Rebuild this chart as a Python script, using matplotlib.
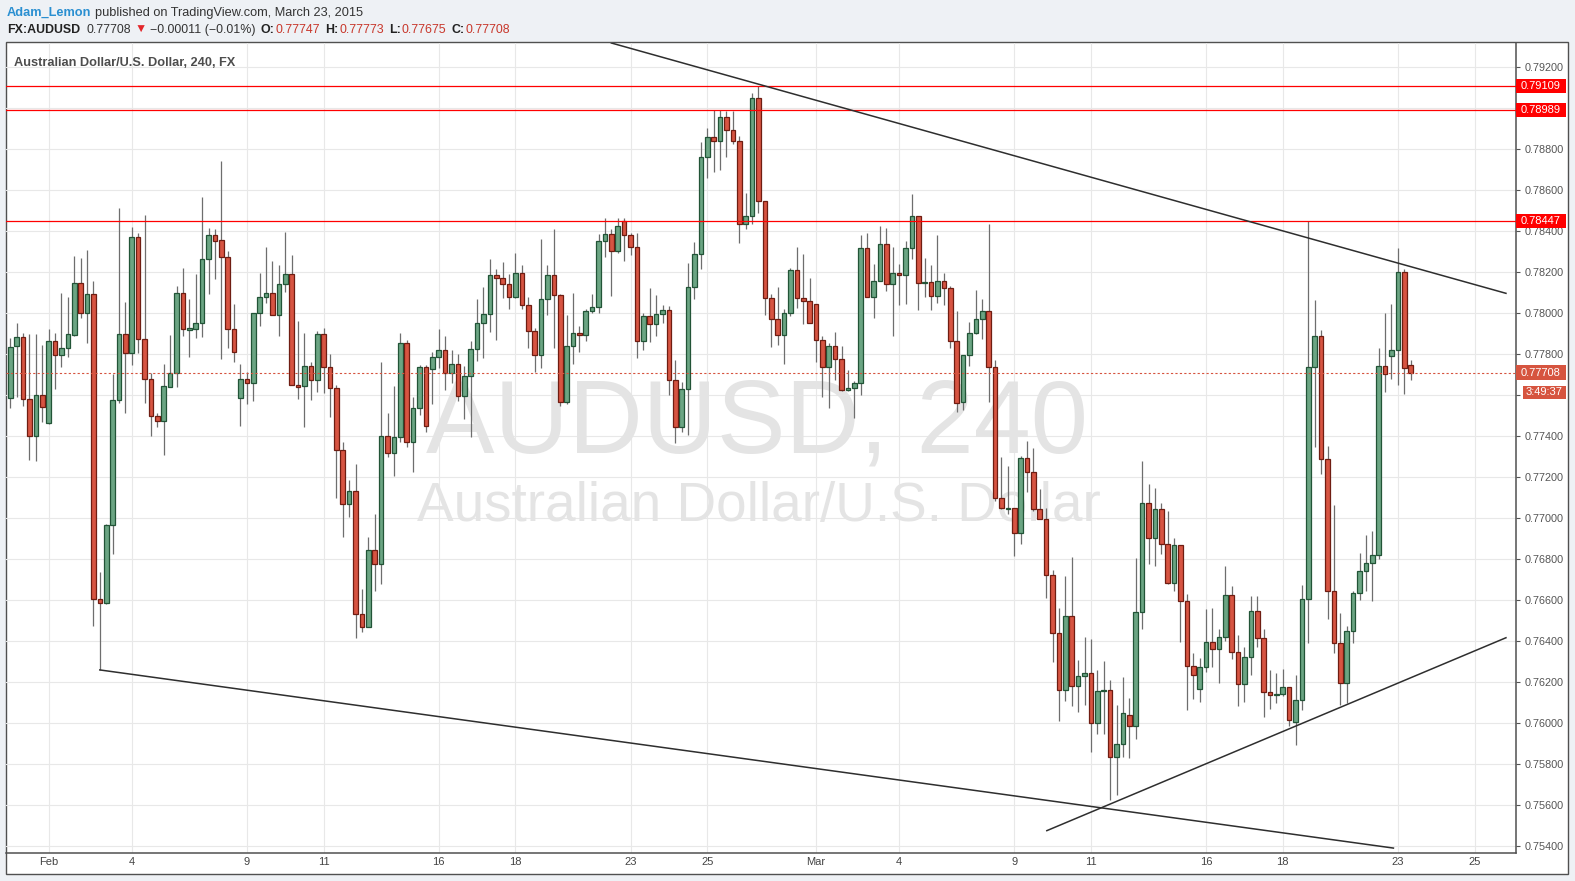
import matplotlib
matplotlib.use("Agg")
import numpy as np
import matplotlib.pyplot as plt
import matplotlib.transforms as mtransforms
from matplotlib.patches import Rectangle

# 4h candles, Jan 30 -> Mar 23 2015 (index = candle slot, weekends skipped)
opens = [
    .77584, .77837, .77881, .77579, .77398, .77598, .77462, .77862, .77794, .77828,
    .77894, .78145, .78001, .78091, .76603, .76584, .76964, .77574, .77896, .77803,
    .78371, .77872, .77677, .77496, .77472, .77641, .77706, .78096, .77919, .77922,
    .77950, .78262, .78379, .78356, .78272, .77920, .77584, .77677, .77657, .78000,
    .78077, .78096, .77989, .78140, .78189, .77647, .77642, .77740, .77672, .77896,
    .77735, .77633, .77332, .77067, .77130, .76530, .76470, .76842, .76774, .77398,
    .77316, .77394, .77852, .77369, .77535, .77735, .77725, .77784, .77818, .77706,
    .77750, .77597, .77693, .77823, .77950, .77994, .78184, .78169, .78140, .78077,
    .78194, .78037, .77911, .77794, .78067, .78184, .78086, .77564, .77839, .77901,
    .77891, .78008, .78028, .78350, .78385, .78301, .78447, .78379, .78320, .77862,
    .77984, .77948, .77994, .78013, .77672, .77445, .77628, .78125, .78286, .78760,
    .78857, .78838, .78955, .78891, .78838, .78433, .78472, .79047, .78545, .78072,
    .77969, .77891, .78000, .78208, .78075, .78057, .78042, .77867, .77735, .77837,
    .77774, .77623, .77633, .77657, .78316, .78077, .78155, .78335, .78140, .78194,
    .78184, .78316, .78472, .78145, .78150, .78081, .78155, .78120, .77862, .77564,
    .77796, .77904, .77971, .78010, .77739, .77096, .77045, .77049, .76928, .77291,
    .77224, .77044, .76995, .76724, .76441, .76160, .76520, .76180, .76230, .76243,
    .75999, .76157, .76160, .75832, .75897, .76037, .75984, .76541, .77072, .76901,
    .77042, .76872, .76681, .76867, .76594, .76277, .76164, .76272, .76394, .76360,
    .76418, .76623, .76345, .76189, .76320, .76545, .76413, .76150, .76135, .76140,
    .76177, .76005, .76112, .76605, .77735, .77886, .77288, .76642, .76392, .76194,
    .76447, .76633, .76740, .76779, .76818, .77741, .77789, .77818, .78200, .77747,
]
highs = [
    .77877, .77950, .77901, .77896, .77896, .77842, .77920, .77901, .78096, .78077,
    .78278, .78267, .78307, .78155, .76737, .76971, .77701, .78510, .78052, .78420,
    .78390, .78480, .77706, .77511, .77751, .77893, .78132, .78221, .78068, .78190,
    .78566, .78413, .78410, .78741, .78302, .78044, .77751, .77712, .78000, .78195,
    .78322, .78254, .78234, .78395, .78283, .77961, .77902, .77761, .77911, .77926,
    .77799, .77649, .77371, .77185, .77263, .76654, .76907, .77020, .77761, .77514,
    .77644, .77902, .77868, .77590, .77746, .77746, .77811, .77922, .77888, .77820,
    .77799, .77741, .77863, .78067, .78125, .78262, .78213, .78249, .78190, .78293,
    .78233, .78077, .77927, .78360, .78234, .78410, .78091, .77990, .78098, .77935,
    .78018, .78091, .78387, .78463, .78410, .78463, .78463, .78390, .78390, .78000,
    .78120, .78088, .78039, .78034, .77769, .77662, .78245, .78345, .78834, .78902,
    .78989, .78989, .78984, .78984, .78862, .78584, .79073, .79109, .78545, .78093,
    .78127, .78018, .78218, .78320, .78288, .78169, .78042, .77886, .77852, .77906,
    .77837, .77720, .77667, .78379, .78389, .78238, .78423, .78413, .78320, .78238,
    .78350, .78580, .78472, .78267, .78233, .78379, .78194, .78130, .78008, .77796,
    .77954, .78112, .78069, .78434, .77772, .77298, .77254, .77049, .77304, .77376,
    .77341, .77142, .77051, .76746, .76560, .76715, .76808, .76308, .76420, .76412,
    .76258, .76302, .76211, .76090, .76223, .76123, .76807, .77278, .77166, .77146,
    .77073, .77034, .76901, .76867, .76628, .76340, .76316, .76556, .76561, .76459,
    .76766, .76668, .76429, .76369, .76620, .76620, .76457, .76257, .76242, .76262,
    .76177, .76234, .76673, .78449, .78063, .77917, .77351, .77065, .76535, .76473,
    .76645, .76831, .76917, .76937, .77829, .78001, .78044, .78317, .78215, .77773,
]
lows = [
    .77535, .77592, .77548, .77283, .77280, .77470, .77457, .77631, .77738, .77787,
    .77889, .77977, .77855, .76475, .76259, .76579, .76826, .77563, .77511, .77746,
    .77803, .77560, .77401, .77445, .77307, .77641, .77641, .77888, .77787, .77880,
    .77885, .78093, .78166, .77776, .77831, .77762, .77450, .77556, .77572, .77938,
    .78050, .77989, .77889, .78104, .77647, .77582, .77445, .77577, .77616, .77608,
    .77494, .77099, .76909, .77006, .76413, .76445, .76467, .76645, .76680, .77299,
    .77206, .77372, .77348, .77226, .77503, .77421, .77555, .77732, .77624, .77657,
    .77572, .77483, .77397, .77767, .77779, .77909, .77867, .78075, .78021, .78071,
    .78021, .77831, .77714, .77733, .77990, .77831, .77548, .77556, .77750, .77811,
    .77862, .77998, .78002, .78275, .78085, .78291, .78255, .78281, .77782, .77820,
    .77860, .77889, .77953, .77600, .77367, .77421, .77406, .78070, .78213, .78659,
    .78689, .78696, .78763, .78823, .78343, .78411, .78433, .78486, .77990, .77836,
    .77844, .77753, .77984, .78026, .77945, .77950, .77762, .77592, .77535, .77672,
    .77618, .77618, .77486, .77598, .78077, .77974, .78155, .78106, .77886, .78037,
    .78045, .78262, .78013, .78077, .78016, .78047, .78037, .77831, .77516, .77528,
    .77740, .77899, .77871, .77564, .77081, .77044, .77020, .76815, .76873, .77127,
    .77034, .76995, .76611, .76300, .76012, .76105, .76081, .76053, .76090, .75860,
    .75947, .75947, .75624, .75649, .75836, .75830, .75920, .76457, .76777, .76767,
    .76826, .76677, .76645, .76397, .76065, .76118, .76104, .76250, .76272, .76197,
    .76399, .76311, .76084, .76104, .76233, .76369, .76028, .76067, .76096, .76132,
    .75985, .75893, .76063, .76392, .77348, .77213, .76506, .76343, .76088, .76099,
    .76392, .76600, .76645, .76597, .76798, .77615, .77680, .77650, .77606, .77675,
]
closes = [
    .77836, .77881, .77579, .77398, .77598, .77540, .77862, .77794, .77828, .77896,
    .78145, .78001, .78091, .76603, .76584, .76964, .77574, .77896, .77803, .78371,
    .77872, .77677, .77496, .77472, .77644, .77706, .78096, .77920, .77925, .77950,
    .78262, .78379, .78353, .78272, .77920, .77808, .77677, .77657, .78000, .78077,
    .78096, .77989, .78140, .78189, .77647, .77641, .77740, .77672, .77896, .77735,
    .77633, .77332, .77067, .77130, .76530, .76470, .76842, .76774, .77398, .77316,
    .77394, .77852, .77369, .77535, .77735, .77447, .77784, .77818, .77706, .77750,
    .77597, .77693, .77823, .77950, .77994, .78184, .78169, .78140, .78077, .78194,
    .78037, .77911, .77794, .78067, .78184, .78086, .77564, .77839, .77901, .77891,
    .78008, .78028, .78350, .78385, .78301, .78424, .78379, .78320, .77862, .77984,
    .77948, .77994, .78013, .77672, .77445, .77628, .78125, .78286, .78760, .78857,
    .78838, .78955, .78891, .78838, .78433, .78472, .79047, .78545, .78072, .77969,
    .77891, .78000, .78208, .78075, .78057, .77950, .77867, .77735, .77837, .77774,
    .77623, .77633, .77657, .78316, .78077, .78155, .78335, .78140, .78194, .78184,
    .78316, .78472, .78145, .78150, .78081, .78155, .78120, .77862, .77559, .77796,
    .77904, .77971, .78010, .77739, .77096, .77049, .77050, .76928, .77291, .77224,
    .77044, .76995, .76724, .76441, .76160, .76520, .76180, .76230, .76243, .75999,
    .76157, .76160, .75832, .75897, .76049, .75984, .76541, .77072, .76901, .77042,
    .76872, .76681, .76867, .76594, .76277, .76233, .76272, .76394, .76360, .76418,
    .76623, .76345, .76189, .76320, .76545, .76413, .76150, .76135, .76140, .76177,
    .76015, .76112, .76605, .77735, .77886, .77288, .76642, .76392, .76194, .76447,
    .76633, .76740, .76779, .76818, .77741, .77701, .77818, .78200, .77730, .77708,
]

tick_idx = [6, 19, 37, 49, 67, 79, 97, 109, 126, 139, 157, 169, 187, 199, 217, 229]
tick_labels = ["Feb", "4", "9", "11", "16", "18", "23", "25",
               "Mar", "4", "9", "11", "16", "18", "23", "25"]
price_ticks = np.arange(0.754, 0.7921, 0.002)
covered_ticks = [0.790, 0.776]  # hidden behind the price boxes

levels = [0.79109, 0.78989, 0.78447]
last_price = 0.77708
change, change_pct = -0.00011, -0.01
countdown = "3:49:37"

# drawn trendlines: (x in candle slots, price)
upper_line = ([94.0, 233.9], [0.79317, 0.78096])
lower_line = ([14.0, 216.3], [0.76259, 0.75390])
support_line = ([162.1, 233.9], [0.75475, 0.76416])

W, H = 1575, 881
GREEN, GREEN_EDGE = "#6ba583", "#225437"
RED, RED_EDGE = "#d75442", "#6f1d12"
TXT_RED = "#c8372b"
YLO, YHI = 0.75366, 0.79317
PX_PER_PRICE = 810 / (YHI - YLO)

plt.rcParams["font.family"] = ["Liberation Sans", "DejaVu Sans"]

fig = plt.figure(figsize=(W / 100, H / 100), dpi=100, facecolor="#eef1f5")
fig.add_artist(Rectangle((6 / W, 7 / H), 1562 / W, 832 / H, transform=fig.transFigure,
                         fc="white", ec="#505050", lw=1.0, zorder=-5))
ax = fig.add_axes([6 / W, 28 / H, 1510 / W, 810 / H])
ax.set_facecolor("none")

o, h, l, c = (np.array(v) for v in (opens, highs, lows, closes))
x = np.arange(len(o))
up = c >= o
body_lo = np.minimum(o, c)
body_h = np.maximum(np.abs(c - o), 0.00002)

ax.vlines(x, l, h, color="#6e6e6e", lw=0.9, zorder=3)
ax.bar(x[up], body_h[up], bottom=body_lo[up], width=0.72, color=GREEN,
       edgecolor=GREEN_EDGE, lw=0.9, zorder=4)
ax.bar(x[~up], body_h[~up], bottom=body_lo[~up], width=0.72, color=RED,
       edgecolor=RED_EDGE, lw=0.9, zorder=4)

for lv in levels:
    ax.axhline(lv, color="#ff0000", lw=0.9, zorder=5)
ax.axhline(last_price, color="#d6543f", lw=0.8, ls=(0, (2, 2)), zorder=5)
for xs, ys in (upper_line, lower_line, support_line):
    ax.plot(xs, ys, color="#2e2e2e", lw=1.1, zorder=5)

# watermark
ax.text(0.4974, 0.527, "AUDUSD, 240", transform=ax.transAxes, fontsize=74,
        color="#e4e4e4", ha="center", va="center", zorder=1)
ax.text(0.4987, 0.427, "Australian Dollar/U.S. Dollar", transform=ax.transAxes,
        fontsize=39.5, color="#e4e4e4", ha="center", va="center", zorder=1)
ax.text(0.0053, 0.975, "Australian Dollar/U.S. Dollar, 240, FX", transform=ax.transAxes,
        fontsize=9.2, fontweight="bold", color="#4d4d4d", ha="left", va="center", zorder=6)

ax.set_xlim(-0.67, 235.47)
ax.set_ylim(YLO, YHI)
ax.set_xticks(tick_idx)
ax.set_xticklabels(tick_labels)
ax.set_yticks(price_ticks)
ax.set_yticklabels(["" if any(abs(t - cv) < 1e-6 for cv in covered_ticks) else f"{t:.5f}"
                    for t in price_ticks])
ax.yaxis.tick_right()
ax.tick_params(axis="y", direction="out", length=3, width=0.8, pad=3,
               labelsize=7.8, colors="#555555")
ax.tick_params(axis="x", length=0, pad=3, labelsize=8, colors="#444444")
ax.grid(True, color="#e8e8e8", lw=0.8)
ax.set_axisbelow(True)
for side in ("top", "left"):
    ax.spines[side].set_visible(False)
for side in ("bottom", "right"):
    ax.spines[side].set_color("#505050")
    ax.spines[side].set_linewidth(1.1)

# price boxes on the right scale
side_tf = mtransforms.blended_transform_factory(ax.transAxes, ax.transData)


def price_box(y, text, fc, x0_px=1516, x1_px=1566, h_px=14):
    x0 = (x0_px - 6) / 1510
    w = (x1_px - x0_px) / 1510
    bh = h_px / PX_PER_PRICE
    ax.add_patch(Rectangle((x0, y - bh / 2), w, bh, transform=side_tf, fc=fc,
                           ec="none", clip_on=False, zorder=8))
    ax.text(x0 + w / 2, y, text, transform=side_tf, ha="center", va="center",
            color="white", fontsize=8, clip_on=False, zorder=9)


for lv in levels:
    price_box(lv, f"{lv:.5f}", "#ff0000")
price_box(last_price, f"{last_price:.5f}", "#d6543f", h_px=15)
price_box(last_price - 19.5 / PX_PER_PRICE, countdown, "#d6543f", x0_px=1523, h_px=13.5)

# header
renderer = fig.canvas.get_renderer()


def header_row(pieces, x_px, y_px, size):
    for text, color, weight, gap in pieces:
        t = fig.text(x_px / W, 1 - y_px / H, text, color=color, fontsize=size,
                     fontweight=weight, ha="left", va="center")
        x_px = t.get_window_extent(renderer).x1 + gap


header_row([("Adam_Lemon", "#2a8fd1", "bold", 4),
            ("published on TradingView.com, March 23, 2015", "#333333", "normal", 0)],
           7, 13, 9.2)
header_row([("FX:AUDUSD", "#222222", "bold", 6),
            (f"{last_price:.5f}", "#333333", "normal", 4),
            ("\u25bc", "#e3262a", "normal", 3),
            (f"\u2212{abs(change):.5f} (\u2212{abs(change_pct):.2f}%)", "#333333", "normal", 5),
            ("O:", "#222222", "bold", 1), (f"{opens[-1]:.5f}", TXT_RED, "normal", 5),
            ("H:", "#222222", "bold", 1), (f"{highs[-1]:.5f}", TXT_RED, "normal", 5),
            ("L:", "#222222", "bold", 1), (f"{lows[-1]:.5f}", TXT_RED, "normal", 5),
            ("C:", "#222222", "bold", 1), (f"{closes[-1]:.5f}", TXT_RED, "normal", 0)],
           7, 30, 8.9)

fig.savefig("out.png", dpi=100, facecolor=fig.get_facecolor())
